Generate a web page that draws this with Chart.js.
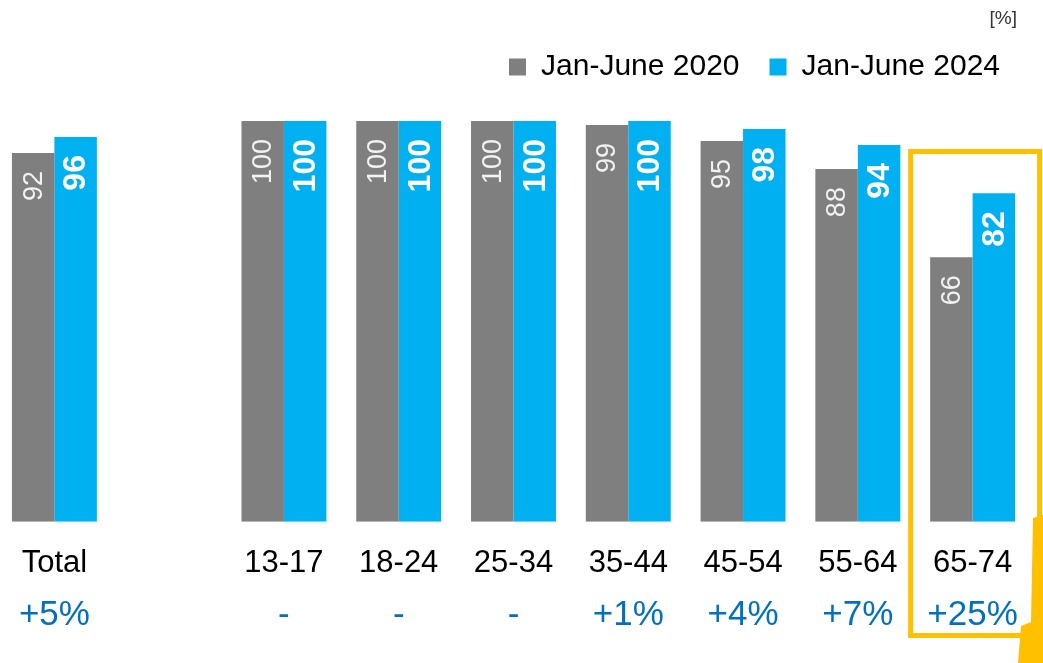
<!DOCTYPE html>
<html>
<head>
<meta charset="utf-8">
<script src="https://cdn.jsdelivr.net/npm/chart.js@4"></script>
<style>
    html, body { margin: 0; padding: 0; background: #fff; overflow: hidden; }
    #wrap { position: absolute; left: -3px; top: 0; width: 1046px; height: 663px; }
    #unit { position: absolute; right: 26px; top: 7px; font: 19px "Liberation Sans", Arial, sans-serif; color: #333; }
</style>
</head>
<body>
<div id="wrap"><canvas id="ageChart"></canvas></div>
<div id="unit">[%]</div>
<script>
// Age groups (empty slot keeps the gap after "Total")
const categories = ['Total', '', '13-17', '18-24', '25-34', '35-44', '45-54', '55-64', '65-74'];
const values2020 = [92, null, 100, 100, 100, 99, 95, 88, 66];
const values2024 = [96, null, 100, 100, 100, 100, 98, 94, 82];
const changeLabels = ['+5%', '', '-', '-', '-', '+1%', '+4%', '+7%', '+25%'];

const GRAY = '#7f7f7f';
const BLUE = '#00b0f0';
const FONT = '"Liberation Sans", Arial, sans-serif';

// Rotated value labels inside the top of each bar
const barLabels = {
    id: 'barLabels',
    afterDatasetsDraw(chart) {
        const ctx = chart.ctx;
        chart.data.datasets.forEach((ds, i) => {
            const meta = chart.getDatasetMeta(i);
            meta.data.forEach((bar, j) => {
                const v = ds.data[j];
                if (v == null) return;
                ctx.save();
                ctx.translate(bar.x, bar.y + 18);
                ctx.rotate(-Math.PI / 2);
                ctx.textAlign = 'right';
                ctx.textBaseline = 'middle';
                ctx.fillStyle = i === 0 ? '#f2f2f2' : '#ffffff';
                ctx.font = i === 0 ? '27px ' + FONT : 'bold 32px ' + FONT;
                ctx.fillText(String(v), 0, 1);
                ctx.restore();
            });
        });
    }
};

// Change row under the age labels
const changeRow = {
    id: 'changeRow',
    afterDraw(chart) {
        const ctx = chart.ctx;
        const xScale = chart.scales.x;
        ctx.save();
        ctx.fillStyle = '#0070c0';
        ctx.font = '35px ' + FONT;
        ctx.textAlign = 'center';
        ctx.textBaseline = 'middle';
        changeLabels.forEach((txt, i) => {
            if (!txt) return;
            ctx.fillText(txt, xScale.getPixelForValue(i), chart.chartArea.bottom + 94);
        });
        ctx.restore();
    }
};

// Orange highlight box around the oldest age group + arrow fragment
const highlight = {
    id: 'highlight',
    afterDraw(chart) {
        const ctx = chart.ctx;
        const x = chart.scales.x.getPixelForValue(categories.length - 1);
        ctx.save();
        ctx.strokeStyle = '#ffc000';
        ctx.lineWidth = 5;
        ctx.strokeRect(x - 62, 151.5, 129, 484);
        ctx.fillStyle = '#ffc000';
        ctx.beginPath();
        ctx.moveTo(1036, 518);
        ctx.lineTo(1046, 515);
        ctx.lineTo(1046, 663);
        ctx.lineTo(1021, 663);
        ctx.lineTo(1024, 626);
        ctx.lineTo(1034, 622);
        ctx.closePath();
        ctx.fill();
        ctx.restore();
    }
};

function createAgeChart() {
    const ctx = document.getElementById('ageChart').getContext('2d');
    new Chart(ctx, {
        type: 'bar',
        data: {
            labels: categories,
            datasets: [
                { label: 'Jan-June 2020', data: values2020, backgroundColor: GRAY },
                { label: 'Jan-June 2024', data: values2024, backgroundColor: BLUE }
            ]
        },
        options: {
            responsive: true,
            maintainAspectRatio: false,
            animation: false,
            categoryPercentage: 0.74,
            barPercentage: 1,
            layout: { padding: { top: 22, right: 13, left: 0, bottom: 66 } },
            scales: {
                y: { display: false, min: 0, max: 100 },
                x: {
                    grid: { display: false },
                    border: { display: false },
                    ticks: { color: '#000', font: { family: FONT, size: 31 }, padding: 15, maxRotation: 0, autoSkip: false }
                },
                // empty spacer between legend and bars
                spacer: {
                    type: 'category',
                    position: 'top',
                    grid: { display: false },
                    border: { display: false },
                    ticks: { display: false },
                    afterFit: scale => { scale.height = 29; }
                }
            },
            plugins: {
                legend: {
                    position: 'top',
                    align: 'end',
                    labels: {
                        color: '#000',
                        font: { family: FONT, size: 30 },
                        boxWidth: 17,
                        boxHeight: 17,
                        padding: 30
                    }
                },
                tooltip: { enabled: false }
            }
        },
        plugins: [barLabels, changeRow, highlight]
    });
}

document.addEventListener('DOMContentLoaded', createAgeChart);
</script>
</body>
</html>
